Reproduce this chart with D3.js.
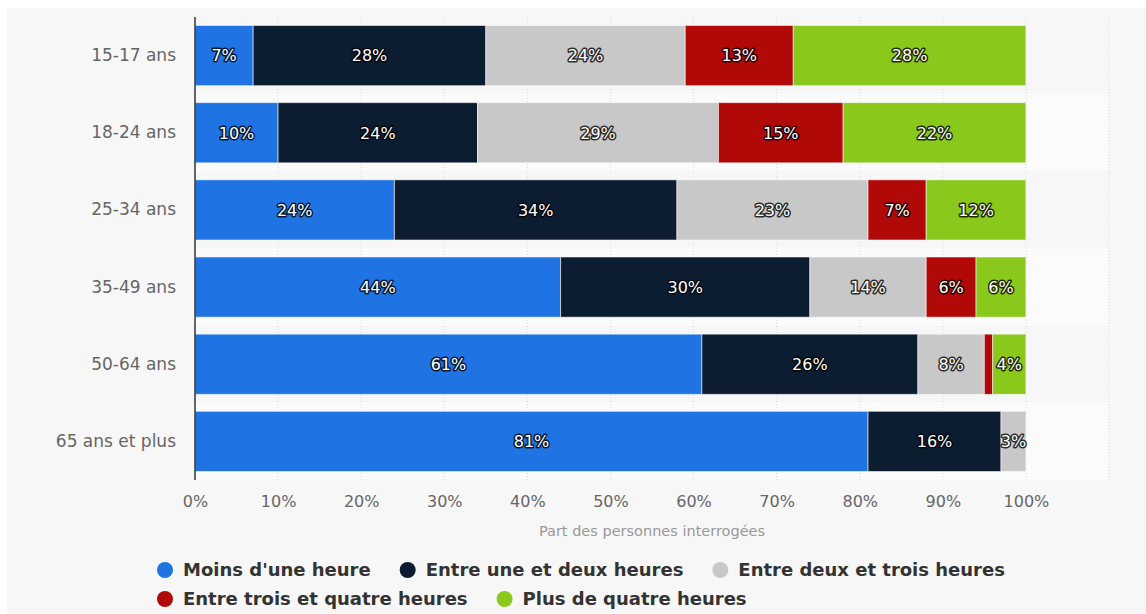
<!DOCTYPE html>
<html>
<head>
<meta charset="utf-8">
<script src="https://cdn.jsdelivr.net/npm/d3@7"></script>
<style>
  body { margin: 0; background: #fff; }
  svg { display: block; font-family: "DejaVu Sans", sans-serif; }
</style>
</head>
<body>
<script>
const width = 1146,
    height = 614

const margin = { top: 17, right: 37, bottom: 134, left: 195 }

const categories = ["15-17 ans", "18-24 ans", "25-34 ans", "35-49 ans", "50-64 ans", "65 ans et plus"]
const seriesNames = ["Moins d'une heure", "Entre une et deux heures", "Entre deux et trois heures",
    "Entre trois et quatre heures", "Plus de quatre heures"]
const colors = ["#1f73e3", "#0c1d32", "#c8c8c8", "#b10808", "#8bc81c"]

const moinsUne = [7, 10, 24, 44, 61, 81]
const uneDeux = [28, 24, 34, 30, 26, 16]
const deuxTrois = [24, 29, 23, 14, 8, 3]
const troisQuatre = [13, 15, 7, 6, 1, 0]
const plusQuatre = [28, 22, 12, 6, 4, 0]
const series = [moinsUne, uneDeux, deuxTrois, troisQuatre, plusQuatre]

const xTicks = [0, 10, 20, 30, 40, 50, 60, 70, 80, 90, 100]
const xTitle = "Part des personnes interrogées"

const svg = d3.select("body")
    .append("svg")
    .attr("width", width)
    .attr("height", height)

// grey panel
svg.append("rect")
    .attr("x", 7).attr("y", 8)
    .attr("width", width - 7).attr("height", height - 8)
    .attr("fill", "#f7f7f7")

const x = d3.scaleLinear()
    .domain([0, 110])
    .range([margin.left, width - margin.right])

const y = d3.scaleBand()
    .domain(categories)
    .range([margin.top, height - margin.bottom])
    .paddingInner(0.22)
    .paddingOuter(0.11)

const plotTop = margin.top, plotBottom = height - margin.bottom

// row stripes
svg.selectAll(".stripe")
    .data(categories)
    .join("rect")
    .attr("x", x(0))
    .attr("y", (d) => y(d) - y.step() * y.paddingInner() / 2)
    .attr("width", x(110) - x(0))
    .attr("height", y.step())
    .attr("fill", (d, i) => i % 2 ? "#fbfbfb" : "#f7f7f7")

// gridlines
svg.selectAll(".grid")
    .data(d3.range(10, 111, 10))
    .join("line")
    .attr("x1", (d) => x(d)).attr("x2", (d) => x(d))
    .attr("y1", plotTop).attr("y2", plotBottom)
    .attr("stroke", "#dcdcdc")
    .attr("stroke-dasharray", "1,2")

// stacked data
const rows = categories.map((c, i) => {
    const r = { cat: c }
    seriesNames.forEach((s, j) => r[s] = series[j][i])
    return r
})
const stacked = d3.stack().keys(seriesNames)(rows)

const layer = svg.selectAll(".layer")
    .data(stacked)
    .join("g")
    .attr("fill", (d, i) => colors[i])

layer.selectAll("rect")
    .data((d) => d.filter((p) => p[1] - p[0] > 0))
    .join("rect")
    .attr("x", (d) => x(d[0]))
    .attr("y", (d) => y(d.data.cat))
    .attr("width", (d) => x(d[1]) - x(d[0]))
    .attr("height", y.bandwidth())
    .attr("stroke", "rgba(255,255,255,0.55)")
    .attr("stroke-width", 1)

// value labels
layer.selectAll("text")
    .data((d) => d.filter((p) => p[1] - p[0] >= 2))
    .join("text")
    .attr("x", (d) => (x(d[0]) + x(d[1])) / 2)
    .attr("y", (d) => y(d.data.cat) + y.bandwidth() / 2)
    .attr("dy", "0.36em")
    .attr("text-anchor", "middle")
    .attr("font-size", 16)
    .attr("fill", "#fff")
    .attr("stroke", "rgba(0,0,0,0.8)")
    .attr("stroke-width", 3)
    .attr("paint-order", "stroke")
    .attr("stroke-linejoin", "round")
    .text((d) => (d[1] - d[0]) + "%")

// y axis
const yAxis = svg.append("g")
    .attr("transform", `translate(${x(0)},0)`)
    .call(d3.axisLeft(y).tickSize(0).tickPadding(19))
yAxis.select(".domain").attr("stroke", "#333").attr("stroke-width", 1.5)
    .attr("d", `M0,${plotTop}V${plotBottom}`)
yAxis.selectAll("text").attr("font-size", 17).attr("fill", "#666")
    .attr("font-family", "DejaVu Sans, sans-serif")

// x axis
const xAxis = svg.append("g")
    .attr("transform", `translate(0,${plotBottom})`)
    .call(d3.axisBottom(x).tickValues(xTicks).tickSize(0).tickPadding(16)
        .tickFormat((d) => d + "%"))
xAxis.select(".domain").remove()
xAxis.selectAll("text").attr("font-size", 16).attr("fill", "#666")
    .attr("font-family", "DejaVu Sans, sans-serif")

svg.append("text")
    .attr("x", 652)
    .attr("y", 536)
    .attr("text-anchor", "middle")
    .attr("font-size", 14.5)
    .attr("fill", "#999")
    .text(xTitle)

// legend
const legendRows = [[0, 1, 2], [3, 4]]
legendRows.forEach((row, ri) => {
    let lx = 157
    const ly = 570 + ri * 29
    row.forEach((k) => {
        const g = svg.append("g")
        g.append("circle")
            .attr("cx", lx + 8).attr("cy", ly)
            .attr("r", 8)
            .attr("fill", colors[k])
        const t = g.append("text")
            .attr("x", lx + 26).attr("y", ly)
            .attr("dy", "0.36em")
            .attr("font-size", 18)
            .attr("font-weight", "bold")
            .attr("fill", "#333")
            .text(seriesNames[k])
        lx += 26 + t.node().getComputedTextLength() + 29
    })
})
</script>
</body>
</html>
